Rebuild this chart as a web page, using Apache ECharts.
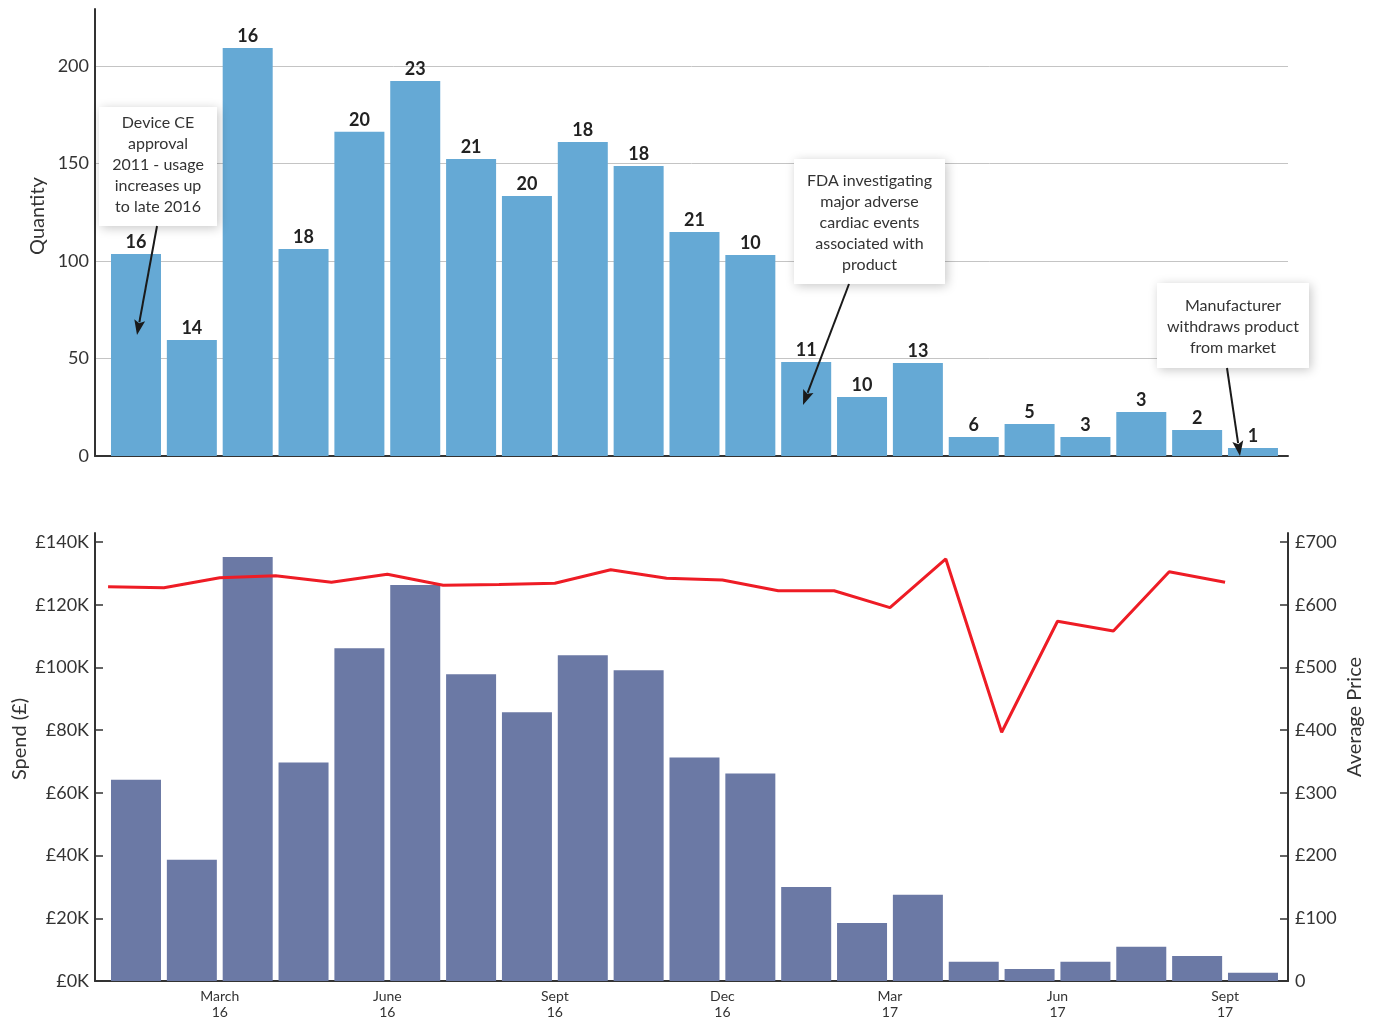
<!DOCTYPE html>
<html><head><meta charset="utf-8">
<script src="https://cdn.jsdelivr.net/npm/echarts@6/dist/echarts.min.js"></script>
<style>html,body{margin:0;padding:0;background:#fff}#c{width:1381px;height:1021px}</style>
</head><body><div id="c"></div>
<script>
// ---- data ----
const months = ['Jan 16','Feb 16','Mar 16','Apr 16','May 16','Jun 16','Jul 16','Aug 16','Sep 16','Oct 16','Nov 16','Dec 16',
                'Jan 17','Feb 17','Mar 17','Apr 17','May 17','Jun 17','Jul 17','Aug 17','Sep 17'];
const quantity = [103.6,59.5,209.2,106.2,166.2,192.3,152.3,133.3,161,148.7,114.9,103.1,48.2,30.3,47.7,9.7,16.4,9.7,22.6,13.3,4.1];
const barLabels = [16,14,16,18,20,23,21,20,18,18,21,10,11,10,13,6,5,3,3,2,1];
const spend = [64200,38700,135200,69700,106100,126300,97800,85700,103900,99100,71300,66200,30000,18500,27500,6100,3800,6100,10900,8000,2600];
const avgPrice = [628.8,627.2,643.1,646.3,635.8,648.5,631.0,632.3,634.2,655.9,642.2,639.4,622.4,622.4,595.3,673,396.6,573.6,558.1,652.7,635.8];
const tickLabels = ['March\n16','June\n16','Sept\n16','Dec\n16','Mar\n17','Jun\n17','Sept\n17'];
const tickMonthIndex = [2,5,8,11,14,17,20];
const spendTicks = [0,20000,40000,60000,80000,100000,120000,140000];
const priceTicks = [0,100,200,300,400,500,600,700];
const notes = [
  'Device CE\napproval\n2011 - usage\nincreases up\nto late 2016',
  'FDA investigating\nmajor adverse\ncardiac events\nassociated with\nproduct',
  'Manufacturer\nwithdraws product\nfrom market'
];

const FONT = 'Lato';
const AX = '#333';
const chart = echarts.init(document.getElementById('c'), null, {renderer:'canvas'});

function arrow(x1,y1,x2,y2){
  const dx=x2-x1, dy=y2-y1, L=Math.sqrt(dx*dx+dy*dy), ux=dx/L, uy=dy/L;
  const hl=15, hw=5.5;
  const bx=x2-ux*hl, by=y2-uy*hl;
  return [
    {type:'line', z:100, shape:{x1:x1,y1:y1,x2:bx+ux*2,y2:by+uy*2}, style:{stroke:'#1a1a1a', lineWidth:2}},
    {type:'polygon', z:100, shape:{points:[[x2,y2],[bx-uy*hw,by+ux*hw],[bx+ux*3,by+uy*3],[bx+uy*hw,by-ux*hw]]}, style:{fill:'#1a1a1a'}}
  ];
}
function box(x,y,w,h,text,ty){
  return [
    {type:'rect', z:99, shape:{x:x,y:y,width:w,height:h}, style:{fill:'#fff', shadowBlur:10, shadowColor:'rgba(0,0,0,0.22)', shadowOffsetX:2, shadowOffsetY:2}},
    {type:'text', z:101, x:x+w/2, y:ty, style:{text:text, font:'16px '+FONT, fill:'#333', align:'center', verticalAlign:'top', lineHeight:21}}
  ];
}
function vtext(x,y,t){
  return {type:'text', z:101, x:x, y:y, rotation:Math.PI/2, style:{text:t, font:'20px '+FONT, fill:'#333', align:'center', verticalAlign:'middle'}};
}

const graphics = [].concat(
  box(99,107,118,119,notes[0],112),
  arrow(157,226,137,335),
  box(794,159,151,125,notes[1],170),
  arrow(849,284,803,405),
  box(1157,283,152,85,notes[2],295),
  arrow(1227,368,1240,456),
  [vtext(38,216,'Quantity'), vtext(20,739,'Spend (£)'), vtext(1355,717,'Average Price')]
);

const option = {
  animation:false,
  textStyle:{fontFamily:FONT},
  grid:[
    {left:95, right:93, top:9, height:447},
    {left:95, right:93, top:533, height:448}
  ],
  xAxis:[
    {gridIndex:0, type:'value', min:-0.734, max:20.627,
     axisLine:{show:true, onZero:false, lineStyle:{color:AX, width:2}},
     axisTick:{show:false}, axisLabel:{show:false}, splitLine:{show:false}},
    {gridIndex:1, type:'value', min:-0.734, max:20.627,
     axisLine:{show:true, onZero:false, lineStyle:{color:AX, width:2}},
     axisTick:{show:false}, splitLine:{show:false},
     axisLabel:{show:true, customValues: tickMonthIndex.map(k=>k-0.5),
       formatter:function(v){ const i = tickMonthIndex.indexOf(Math.round(v+0.5)); return i>=0 ? tickLabels[i] : ''; },
       fontFamily:FONT, fontSize:14, color:'#333', lineHeight:16, margin:7}}
  ],
  yAxis:[
    {gridIndex:0, type:'value', min:0, max:229.2, interval:50,
     axisLine:{show:true, onZero:false, lineStyle:{color:AX, width:2}},
     axisTick:{show:false},
     axisLabel:{formatter:function(v){ return (Math.abs(v%50)<1e-6) ? String(v) : ''; }, fontFamily:FONT, fontSize:18, color:'#333', margin:6},
     splitLine:{show:true, showMaxLine:false, lineStyle:{color:'#c4c4c4', width:1}}},
    {gridIndex:1, type:'value', position:'left', min:0, max:142870, interval:20000,
     axisLine:{show:true, onZero:false, lineStyle:{color:AX, width:2}},
     axisTick:{show:true, inside:true, length:8, customValues:spendTicks, lineStyle:{color:AX, width:1.5}},
     axisLabel:{customValues:spendTicks, formatter:function(v){ return '£'+Math.round(v/1000)+'K'; }, fontFamily:FONT, fontSize:18, color:'#333', margin:6},
     splitLine:{show:false}},
    {gridIndex:1, type:'value', position:'right', min:0, max:714.4, interval:100,
     axisLine:{show:true, onZero:false, lineStyle:{color:AX, width:2}},
     axisTick:{show:true, inside:true, length:8, customValues:priceTicks, lineStyle:{color:AX, width:1.5}},
     axisLabel:{customValues:priceTicks, formatter:function(v){ return v===0 ? '0' : '£'+v; }, fontFamily:FONT, fontSize:18, color:'#333', margin:7},
     splitLine:{show:false}}
  ],
  series:[
    {name:'Quantity', type:'bar', xAxisIndex:0, yAxisIndex:0, barWidth:50,
     data: quantity.map((v,i)=>[i,v]),
     itemStyle:{color:'#65a9d5'},
     label:{show:true, position:'top', distance:3, formatter:function(p){ return barLabels[p.dataIndex]; },
            fontFamily:FONT, fontWeight:'bold', fontSize:18, color:'#222'}},
    {name:'Spend', type:'bar', xAxisIndex:1, yAxisIndex:1, barWidth:50,
     data: spend.map((v,i)=>[i,v]),
     itemStyle:{color:'#6b79a5'}},
    {name:'Average Price', type:'line', xAxisIndex:1, yAxisIndex:2, z:5,
     data: avgPrice.map((v,i)=>[i-0.5,v]),
     symbol:'none', lineStyle:{color:'#ee1c25', width:3}, itemStyle:{color:'#ee1c25'}}
  ],
  graphic: graphics
};
chart.setOption(option);
</script>
</body></html>
